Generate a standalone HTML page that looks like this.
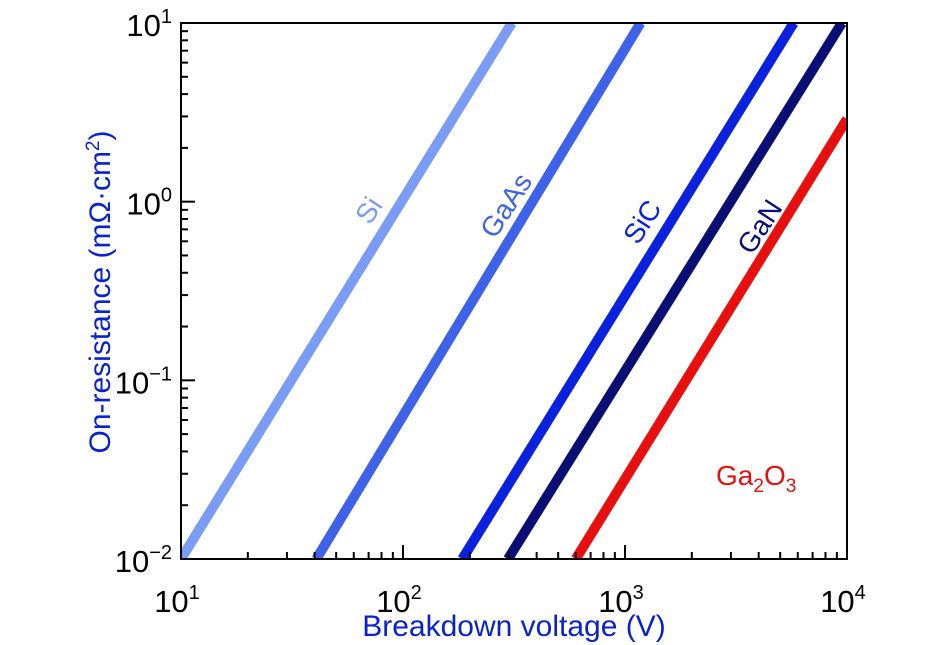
<!DOCTYPE html>
<html><head><meta charset="utf-8"><style>
body{margin:0;background:#fff;}
svg{display:block;font-family:"Liberation Sans",sans-serif;}
</style></head><body>
<svg id="c" width="945" height="645"></svg>
<script>
const seriesNames=["Si","GaAs","SiC","GaN","Ga2O3"];
const seriesColors=["#7a9cf5","#3f63e8","#0a22dd","#0a0f75","#e8100e"];
const startV=[10,40.7,185,297,600];
const startR=[0.01,0.01,0.01,0.01,0.01];
const endV=[309,1175,5750,9480,10000];
const endR=[10,10,10,10,2.9];
const xTicks=[10,100,1000,10000];
const yTicks=[0.01,0.1,1,10];
const yTickLabels=[["10","−2"],["10","−1"],["10","0"],["10","1"]];
const xTickLabels=[["10","1"],["10","2"],["10","3"],["10","4"]];
const L=181,R=847,T=23,B=559;
const X=v=>L+(Math.log10(v)-1)/3*(R-L);
const Y=v=>B-(Math.log10(v)+2)/3*(B-T);
const svg=document.getElementById('c');const NS="http://www.w3.org/2000/svg";
function mk(t,a,p){const e=document.createElementNS(NS,t);for(const k in a)e.setAttribute(k,a[k]);(p||svg).appendChild(e);return e;}
const clip=mk('clipPath',{id:'pc'});mk('rect',{x:L,y:T,width:R-L,height:B-T},clip);
const g=mk('g',{'clip-path':'url(#pc)'});
for(let i=0;i<seriesNames.length;i++){
 const ln=mk('line',{x1:X(startV[i]),y1:Y(startR[i]),x2:X(endV[i]),y2:Y(endR[i]),stroke:seriesColors[i],'stroke-width':10},g);
 
 
}
const fr=mk('rect',{x:L,y:T,width:R-L,height:B-T,fill:'none',stroke:'#000','stroke-width':2});

for(let d=1;d<4;d++)for(let m=1;m<10;m++){
 const v=Math.pow(10,d)*m;const len=m==1?14:7;
 if(m>1||d>0){mk('line',{x1:X(v),y1:B,x2:X(v),y2:B-len,stroke:'#000','stroke-width':2});}
 const w=Math.pow(10,d-3)*m;
 mk('line',{x1:L,y1:Y(w),x2:L+len,y2:Y(w),stroke:'#000','stroke-width':2});
}
xTicks.forEach((v,i)=>{const t=mk('text',{x:X(v)-4,y:612,'font-size':31,'text-anchor':'middle',fill:'#000'});
 
 t.innerHTML=xTickLabels[i][0]+'<tspan dy="-13" font-size="20">'+xTickLabels[i][1]+'</tspan>';});
yTicks.forEach((v,i)=>{const t=mk('text',{x:172,y:Y(v)+13,'font-size':31,'text-anchor':'end',fill:'#000'});
 
 t.innerHTML=yTickLabels[i][0]+'<tspan dy="-13" font-size="20">'+yTickLabels[i][1]+'</tspan>';});
</script>
<svg style="position:absolute;left:0;top:0" width="945" height="645" font-family="Liberation Sans, sans-serif">
<text x="514" y="636" font-size="30" fill="#0a22cc" text-anchor="middle">Breakdown voltage (V)</text>
<text transform="translate(110,292) rotate(-90)" font-size="30" fill="#0a22cc" text-anchor="middle">On-resistance (mΩ·cm<tspan dy="-11" font-size="19">2</tspan><tspan dy="11">)</tspan></text>
<text transform="translate(370,226) rotate(-57)" font-size="28" fill="#7a9cf5">Si</text>
<text transform="translate(495,240) rotate(-57)" font-size="28" fill="#3f63e8">GaAs</text>
<text transform="translate(638,246) rotate(-57)" font-size="28" fill="#0a22dd">SiC</text>
<text transform="translate(752,256) rotate(-57)" font-size="28" fill="#0a0f75">GaN</text>
<text x="716" y="485" font-size="28" fill="#e8100e">Ga<tspan dy="7" font-size="19">2</tspan><tspan dy="-7">O</tspan><tspan dy="7" font-size="19">3</tspan></text>
</svg>
</body></html>
